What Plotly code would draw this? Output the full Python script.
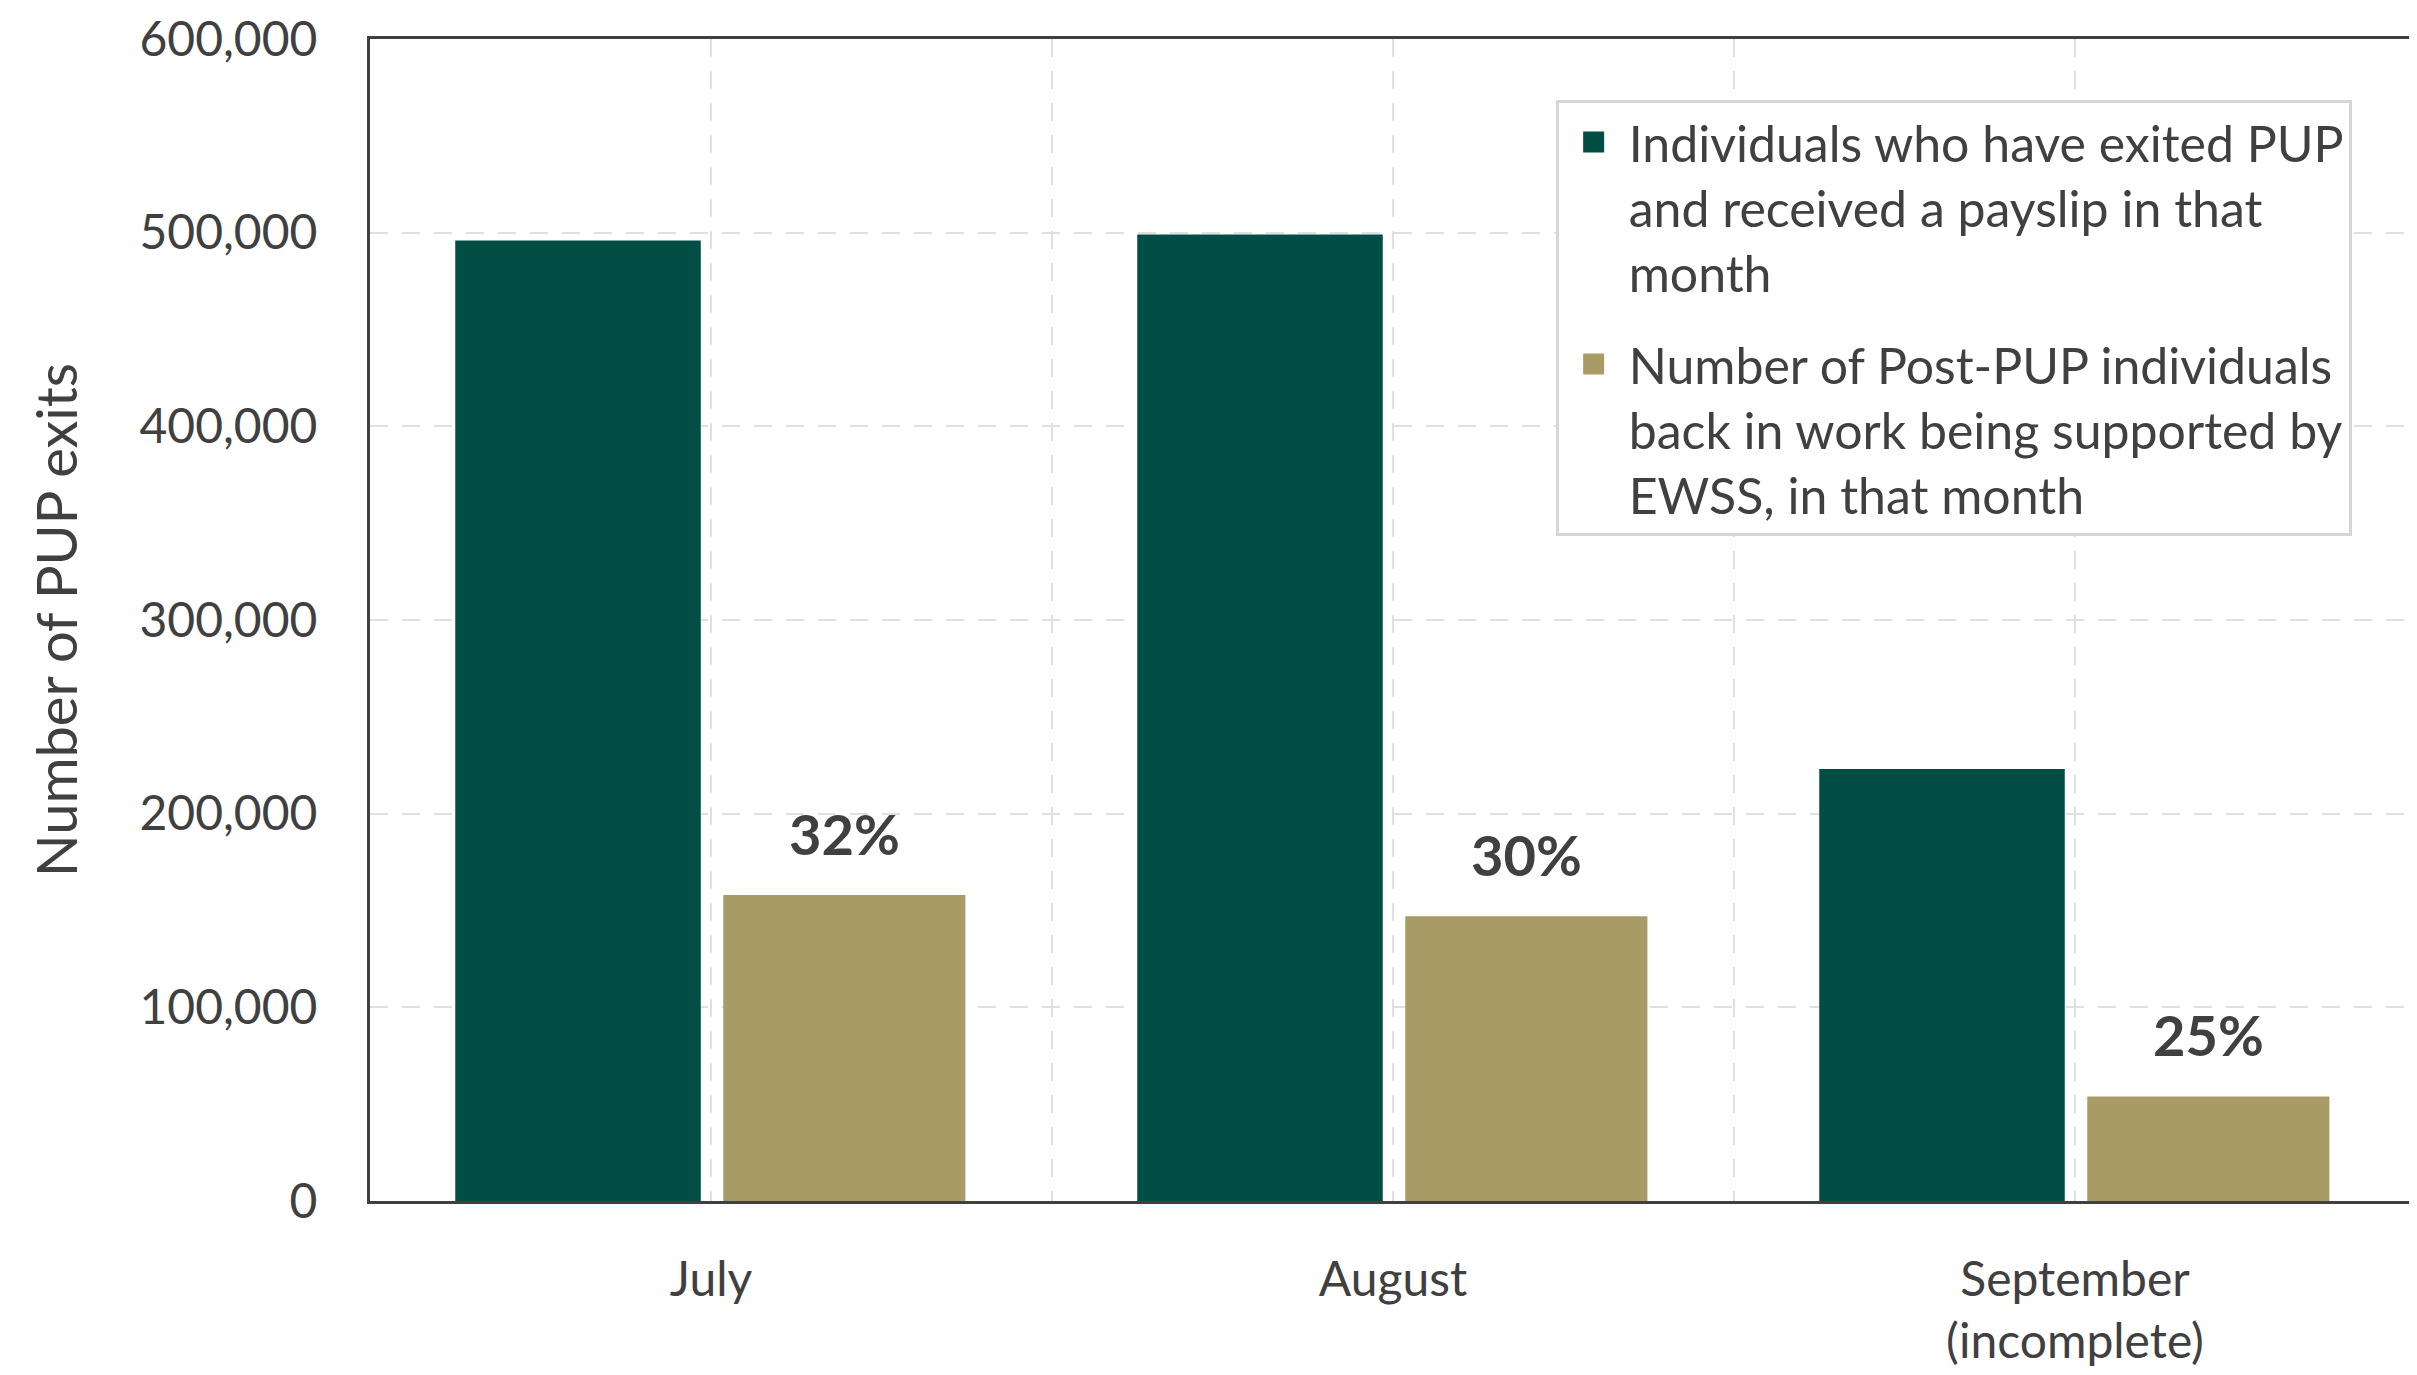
import plotly.graph_objects as go

# ---- data ----
months = ["July", "August", "September<br>(incomplete)"]
exited_with_payslip = [496000, 499000, 223000]
ewss_supported = [158000, 147000, 54000]
pct_labels = ["32%", "30%", "25%"]
series_names = [
    "Individuals who have exited PUP<br>and received a payslip in that<br>month",
    "Number of Post-PUP individuals<br>back in work being supported by<br>EWSS, in that month",
]
y_tick_values = [0, 100000, 200000, 300000, 400000, 500000, 600000]
y_axis_title = "Number of PUP exits"

# ---- style ----
DARK = "#034e44"
TAN = "#a89b65"
TEXT = "#404040"
FONT = "Lato"
x_pos = list(range(len(months)))

fig = go.Figure()

fig.add_trace(go.Bar(
    x=x_pos, y=exited_with_payslip, name=series_names[0],
    marker=dict(color=DARK, line=dict(width=0)),
    offset=-0.375, width=0.36, showlegend=False,
))
fig.add_trace(go.Bar(
    x=x_pos, y=ewss_supported, name=series_names[1],
    marker=dict(color=TAN, line=dict(width=0)),
    offset=0.018, width=0.355, showlegend=False,
))

# legend entries (square swatches)
for name, col in zip(series_names, [DARK, TAN]):
    fig.add_trace(go.Scatter(
        x=[None], y=[None], mode="markers", name=name, legendgroup=name,
        marker=dict(symbol="square", size=16, color=col,
                    line=dict(color=col, width=5)),
        showlegend=True, hoverinfo="skip",
    ))

# percentage labels above tan bars
for i, (v, t) in enumerate(zip(ewss_supported, pct_labels)):
    fig.add_annotation(
        x=x_pos[i] + 0.018 + 0.355 / 2, y=v, xref="x", yref="y",
        text="<b>" + t + "</b>", showarrow=False,
        yanchor="middle", yshift=62,
        font=dict(family=FONT, size=56, color=TEXT),
    )

fig.update_layout(
    width=2417, height=1375,
    margin=dict(l=362, r=9, t=31, b=182, autoexpand=False),
    paper_bgcolor="white", plot_bgcolor="white",
    font=dict(family=FONT, size=48, color=TEXT),
    barmode="overlay",
    legend=dict(
        x=0.5795, y=0.9475, xanchor="left", yanchor="top",
        bgcolor="white", bordercolor="#d6d6d6", borderwidth=3,
        font=dict(family=FONT, size=50, color=TEXT),
        tracegroupgap=24, itemsizing="trace", itemwidth=60, valign="top",
    ),
)

fig.update_xaxes(
    range=[-0.5, len(months) - 0.5],
    tickmode="array", tickvals=x_pos, ticktext=months,
    showline=True, mirror=True, linecolor=TEXT, linewidth=3,
    showgrid=True, gridcolor="#e0e0e0", gridwidth=2, griddash="18px,14px",
    minor=dict(tick0=0.5, dtick=1, showgrid=True, gridcolor="#e0e0e0",
               gridwidth=2, griddash="18px,14px", ticks=""),
    ticks="", ticklabelstandoff=34, zeroline=False,
    tickfont=dict(family=FONT, size=48, color=TEXT),
)
fig.update_yaxes(
    range=[0, 600000], tickmode="array", tickvals=y_tick_values,
    tickformat=",", showline=True, mirror=True, linecolor=TEXT, linewidth=3,
    showgrid=True, gridcolor="#e0e0e0", gridwidth=2, griddash="18px,14px",
    ticks="", ticklabelstandoff=40, zeroline=False,
    tickfont=dict(family=FONT, size=48, color=TEXT),
    title=dict(text=y_axis_title, standoff=44,
               font=dict(family=FONT, size=56, color=TEXT)),
)

fig.write_html("out.html")
